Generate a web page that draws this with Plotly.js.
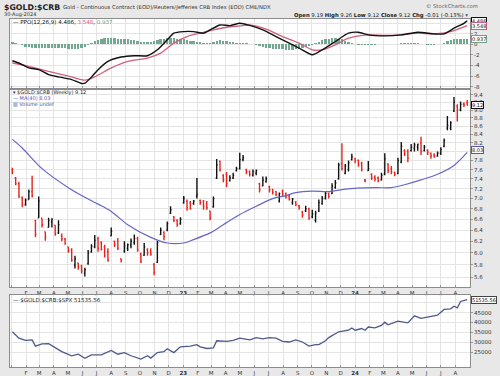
<!DOCTYPE html>
<html><head><meta charset="utf-8">
<script src="https://cdn.plot.ly/plotly-3.0.1.min.js"></script>
<style>html,body{margin:0;padding:0;background:#e8e8e8}#chart{width:500px;height:376px}</style>
</head><body><div id="chart"></div><script>
// ---- data (weekly bars, week 0 = week of 2022-01-03) ----
const firstWeek = Date.UTC(2022, 0, 3);
const opens  = [7.60,7.42,7.30,7.02,6.88,6.98,7.14,6.58,6.63,6.62,6.37,6.45,6.55,6.49,6.35,6.30,6.24,6.10,6.05,5.80,5.83,5.78,5.66,5.82,6.02,6.10,6.25,6.18,6.10,6.02,6.30,6.20,6.20,5.90,6.03,6.08,6.14,6.18,6.25,5.98,5.96,6.06,6.02,5.80,5.84,6.32,6.36,6.40,6.72,6.64,6.58,6.52,6.92,6.95,6.92,6.90,7.05,6.96,6.95,6.90,6.76,6.84,7.42,7.78,7.48,7.50,7.36,7.42,7.58,7.62,7.82,7.60,7.56,7.48,7.52,7.30,7.26,7.35,7.24,7.18,7.14,6.95,7.15,7.10,7.05,6.92,6.93,6.86,6.74,6.76,6.80,6.65,6.58,6.76,6.90,7.00,7.10,7.10,7.22,7.40,7.72,7.52,7.60,7.82,7.84,7.80,7.74,7.38,7.58,7.50,7.44,7.42,7.38,7.50,7.72,7.62,7.54,7.52,7.76,8.02,8.00,8.02,8.08,8.10,8.20,8.02,8.02,7.96,7.92,7.90,7.96,8.12,8.55,8.55,8.98,9.10,9.00,9.15,9.19];
const highs  = [7.64,7.44,7.34,7.04,7.00,7.18,7.47,6.59,7.04,6.62,6.37,6.63,6.62,6.49,6.58,6.34,6.26,6.10,6.08,5.95,5.83,5.80,5.75,6.05,6.15,6.31,6.28,6.20,6.14,6.08,6.45,6.21,6.26,5.90,6.20,6.16,6.25,6.32,6.28,6.00,6.17,6.08,6.08,5.83,6.21,6.45,6.38,6.56,6.85,6.66,6.60,6.64,7.05,6.98,6.95,6.97,7.42,6.98,6.97,6.95,6.76,7.04,7.83,7.80,7.50,7.55,7.48,7.53,7.66,7.97,7.92,7.62,7.58,7.60,7.60,7.32,7.45,7.45,7.26,7.20,7.15,7.12,7.18,7.12,7.08,7.01,6.95,6.88,6.76,6.86,6.82,6.78,6.76,6.98,7.05,7.15,7.12,7.31,7.38,7.75,8.19,7.72,7.80,7.95,7.86,7.82,7.77,7.40,7.79,7.52,7.48,7.45,7.53,7.96,7.74,7.68,7.56,7.86,8.22,8.05,8.05,8.17,8.20,8.18,8.34,8.15,8.05,7.98,7.96,8.00,8.10,8.30,8.85,8.72,9.34,9.15,9.22,9.20,9.26];
const lows   = [7.50,7.27,7.01,6.83,6.86,6.98,7.02,6.27,6.63,6.45,6.21,6.45,6.45,6.30,6.33,6.20,6.14,6.00,5.85,5.74,5.72,5.66,5.61,5.80,6.00,6.08,6.02,6.04,5.92,5.85,6.29,6.10,6.05,5.84,6.00,6.03,6.08,6.14,6.02,5.83,5.95,5.95,5.95,5.63,5.83,6.31,6.22,6.38,6.70,6.55,6.46,6.50,6.90,6.76,6.78,6.88,7.00,6.88,6.78,6.78,6.58,6.82,7.40,7.56,7.33,7.23,7.35,7.40,7.56,7.60,7.78,7.50,7.45,7.45,7.48,7.12,7.25,7.32,7.12,7.08,7.05,6.92,7.05,7.00,6.96,6.88,6.85,6.78,6.63,6.74,6.59,6.62,6.54,6.74,6.88,6.98,7.00,7.09,7.20,7.39,7.58,7.50,7.56,7.80,7.74,7.66,7.56,7.33,7.57,7.38,7.35,7.33,7.37,7.48,7.52,7.50,7.46,7.50,7.74,7.90,7.76,8.00,8.00,8.02,7.92,8.00,7.92,7.84,7.86,7.88,7.92,8.10,8.50,8.50,8.95,8.71,8.97,9.08,9.12];
const closes = [7.54,7.30,7.05,6.88,6.97,7.14,7.06,6.32,6.95,6.50,6.28,6.58,6.60,6.33,6.50,6.24,6.16,6.03,5.88,5.90,5.76,5.70,5.72,6.00,6.12,6.22,6.08,6.06,5.95,5.88,6.38,6.14,6.08,5.88,6.12,6.14,6.20,6.25,6.05,5.86,6.10,6.00,5.98,5.68,6.18,6.40,6.28,6.52,6.78,6.58,6.50,6.60,7.00,6.82,6.80,6.95,7.08,6.92,6.85,6.82,6.62,7.00,7.70,7.60,7.38,7.30,7.42,7.48,7.62,7.82,7.86,7.55,7.50,7.55,7.58,7.18,7.38,7.40,7.18,7.12,7.08,7.10,7.06,7.03,6.98,6.99,6.88,6.82,6.68,6.80,6.62,6.70,6.72,6.92,7.00,7.10,7.05,7.25,7.32,7.70,7.62,7.68,7.75,7.88,7.80,7.70,7.60,7.36,7.62,7.42,7.40,7.36,7.48,7.84,7.58,7.55,7.50,7.80,8.12,7.95,7.85,8.10,8.15,8.17,8.00,8.10,7.98,7.90,7.88,7.96,8.05,8.25,8.62,8.68,9.20,9.00,9.15,9.13,9.12];

const maWeeks  = [0,3,9,17,23,26,30,35,42,47,52,55,60,64,69,74,79,83,86,91,96,101,110,115,119,124,129,134,138];
const maValues = [8.28,8.08,7.62,7.22,6.99,6.89,6.75,6.50,6.27,6.17,6.17,6.23,6.35,6.50,6.69,6.85,7.00,7.06,7.12,7.15,7.14,7.19,7.22,7.22,7.28,7.38,7.50,7.69,7.98];

const ppoWeeks  = [0,2,5,8,11,14,18,21,22,24,26,29,33,37,41,44,47,49,52,55,58,60,63,66,69,72,76,80,84,87,91,94,98,102,105,108,113,118,123,128,131,134,137,138];
const ppoValues = [-3.09,-3.52,-4.46,-4.78,-5.72,-6.15,-6.66,-7.41,-7.35,-6.2,-4.78,-3.2,-2.39,-2.14,-2.14,-1.02,0.87,2.13,2.43,2.43,2.13,2.75,3.69,3.56,4.0,3.6,2.75,1.49,0.24,-0.70,-1.96,-1.02,0.55,2.13,2.31,1.81,1.62,1.81,2.31,1.99,2.0,3.07,4.0,4.486];
const signalWeeks  = [0,5,11,18,22,25,30,35,41,45,49,53,57,61,65,69,72,77,82,87,91,94,98,102,108,113,118,123,128,133,138];
const signalValues = [-3.52,-4.15,-5.1,-6.15,-6.78,-6.15,-4.46,-3.2,-2.58,-1.64,0.24,1.49,2.13,2.75,3.25,3.5,3.69,2.88,1.49,0.24,-1.02,-1.02,-0.08,1.18,1.81,1.7,1.81,2.13,2.0,2.43,3.548];
const histValues = [0.45,0.35, 0.1,-0.2,-0.4, -0.5,-0.6,-0.6,-0.7,-0.7,-0.7,-0.65,-0.6, -0.6,-0.65,-0.7,-0.75,-0.8,-0.85,-0.85,-0.8, -0.7,-0.5,-0.2,0.2, 0.6,0.9,1.1,1.2,1.25,1.2,1.15,1.1, 1.05,1.0,0.95,0.9,0.8,0.7, 0.55,0.45,0.4,0.45,0.6, 0.8,1.0,1.1,1.2,1.2,1.15,1.1,1.0,0.95, 0.85,0.7,0.6,0.5,0.4,0.3, 0.2,0.3,0.5,0.7, 0.75,0.7,0.6,0.5,0.4, 0.35,0.3,0.25,0.2,0.1,0, -0.2,-0.35,-0.5,-0.6,-0.7,-0.8,-0.85, -0.9,-0.95,-1.0,-1.0,-1.0,-0.95,-0.85,-0.7, -0.5,-0.3,-0.1,0.2, 0.5,0.75,0.95,1.1,1.2,1.2,1.1,0.95,0.7, 0.45,0.25,0.1,-0.05,-0.15,-0.2, -0.2,-0.15,-0.1,0,0.05,0.1,0.1,0.05, 0,0.1,0.2,0.25,0.3,0.3,0.25,0.2,0.1,0,-0.05, -0.1,-0.1,0,0.15,0.35, 0.6,0.8,0.95,1.0,1.0,0.95,0.937];

const ratioWeeks  = [0,2,4,6,7,9,11,13,15,18,20,22,24,27,30,32,34,36,39,41,42,44,46,47,49,51,54,56,57,59,61,62,65,67,69,72,74,76,78,80,82,84,86,88,90,92,93,95,96,99,102,103,104,106,107,108,110,112,113,114,117,120,122,124,127,129,131,133,134,135,136,138];
const ratioValues = [35340,32100,30990,31280,28090,29200,29350,27270,25340,23260,24030,21960,23740,23740,25970,24030,24850,23260,21620,23260,22100,24850,25340,26790,24850,27750,28090,28860,27750,26930,27270,30800,30510,30990,32100,31280,32420,31760,32420,32100,30510,30190,31280,30190,28090,28860,28860,30800,32420,35340,36110,37270,36110,36970,36110,37750,37270,38530,40170,38830,40660,39830,43360,42100,43050,43700,46600,46900,48190,47400,50600,51535.56];

const priceTicks = [5.6,5.8,6.0,6.2,6.4,6.6,6.8,7.0,7.2,7.4,7.6,7.8,8.0,8.2,8.4,8.6,8.8,9.0,9.2,9.4];
const priceTickText = ['5.6','5.8','6.0','6.2','6.4','6.6','6.8','7.0','7.2','7.4','7.6','7.8','','8.2','8.4','8.6','8.8','9.0','9.2','9.4'];
const ppoTicks = [-8,-6,-4,-2,0,2,4];
const ppoTickText = ['-8','-6','-4','-2','0','2',''];
const ratioTicks = [25000,30000,35000,40000,45000,50000];
const ratioTickText = ['25000','30000','35000','40000','45000',''];
const monthTicks = ['2022-01-01','2022-02-01','2022-03-01','2022-04-01','2022-05-01','2022-06-01','2022-07-01','2022-08-01','2022-09-01','2022-10-01','2022-11-01','2022-12-01','2023-01-01','2023-02-01','2023-03-01','2023-04-01','2023-05-01','2023-06-01','2023-07-01','2023-08-01','2023-09-01','2023-10-01','2023-11-01','2023-12-01','2024-01-01','2024-02-01','2024-03-01','2024-04-01','2024-05-01','2024-06-01','2024-07-01','2024-08-01'];
const monthLabels = ['','F','M','A','M','J','J','A','S','O','N','D','<b>23</b>','F','M','A','M','J','J','A','S','O','N','D','<b>24</b>','F','M','A','M','J','J','A'];

// ---- helpers ----
const wk = i => new Date(firstWeek + i * 7 * 86400000).toISOString().slice(0, 10);
const weeks = closes.map((_, i) => wk(i));
const upIdx = [], dnIdx = [];
closes.forEach((c, i) => { const ref = i === 0 ? opens[0] : closes[i - 1]; (c >= ref ? upIdx : dnIdx).push(i); });
const pick = (arr, idx) => idx.map(i => arr[i]);
function ohlcTrace(idx, color) {
  return {type: 'ohlc', xaxis: 'x', yaxis: 'y', x: pick(weeks, idx), open: pick(opens, idx), high: pick(highs, idx), low: pick(lows, idx), close: pick(closes, idx),
    increasing: {line: {color: color, width: 1.4}}, decreasing: {line: {color: color, width: 1.4}}, tickwidth: 0.3, hoverinfo: 'skip'};
}
const F = 'DejaVu Sans';
const L = 10, R = 470, T = 18, B = 367;
const px = x => (x - L) / (R - L), py = y => (B - y) / (B - T);
const dom = (yTop, yBot) => [Math.max(0, py(yBot)), Math.min(1, py(yTop))];
const ann = (x, y, text, size, color, extra) => Object.assign({xref: 'paper', yref: 'paper', x: px(x), y: py(y), xanchor: 'left', yanchor: 'middle', text: text, showarrow: false, font: {family: F, size: size, color: color || '#222'}}, extra || {});
const box = (yref, y, text, border) => ({xref: 'paper', yref: yref, x: 1.003, y: y, xanchor: 'left', yanchor: 'middle', text: text, showarrow: false, bgcolor: '#fff', bordercolor: border, borderwidth: 1, borderpad: 0, font: {family: F, size: 5, color: '#111'}});

const traces = [
  {type: 'bar', xaxis: 'x2', yaxis: 'y2', x: weeks, y: histValues, marker: {color: '#72a892', line: {width: 0}}, width: 5 * 86400000, hoverinfo: 'skip'},
  {type: 'scatter', mode: 'lines', xaxis: 'x2', yaxis: 'y2', x: signalWeeks.map(wk), y: signalValues, line: {color: '#d0607e', width: 1.3, shape: 'spline', smoothing: 0.7}, hoverinfo: 'skip'},
  {type: 'scatter', mode: 'lines', xaxis: 'x2', yaxis: 'y2', x: ppoWeeks.map(wk), y: ppoValues, line: {color: '#111', width: 1.4, shape: 'spline', smoothing: 0.6}, hoverinfo: 'skip'},
  {type: 'scatter', mode: 'lines', xaxis: 'x', yaxis: 'y', x: maWeeks.map(wk), y: maValues, line: {color: '#6666c8', width: 1.2, shape: 'spline', smoothing: 0.8}, hoverinfo: 'skip'},
  ohlcTrace(upIdx, '#111111'),
  ohlcTrace(dnIdx, '#e8231c'),
  {type: 'scatter', mode: 'lines', xaxis: 'x3', yaxis: 'y3', x: ratioWeeks.map(wk), y: ratioValues, line: {color: '#4d5a8a', width: 1.3}, hoverinfo: 'skip'}
];

const xRange = ['2021-12-29', '2024-09-01'];
const xBase = {range: xRange, type: 'date', tickvals: monthTicks, ticktext: monthLabels, showgrid: true, gridcolor: '#e4e4e4', gridwidth: 1,
  showline: true, mirror: true, linecolor: '#8c8c8c', linewidth: 1, ticks: 'inside', ticklen: 2, tickcolor: '#999', tickfont: {family: F, size: 5.5, color: '#333'}, zeroline: false, fixedrange: true};
const yBase = {side: 'right', showgrid: true, gridcolor: '#e4e4e4', showline: true, mirror: true, linecolor: '#8c8c8c', linewidth: 1, ticks: 'outside', ticklen: 2, tickcolor: '#999',
  tickfont: {family: F, size: 5.5, color: '#333'}, zeroline: false, fixedrange: true};

const layout = {
  width: 500, height: 376, margin: {l: L, r: 500 - R, t: T, b: 376 - B},
  paper_bgcolor: '#e8e8e8', plot_bgcolor: '#ffffff', showlegend: false, bargap: 0,
  xaxis: Object.assign({}, xBase, {anchor: 'y', rangeslider: {visible: false}, showticklabels: true}),
  xaxis2: Object.assign({}, xBase, {anchor: 'y2', matches: 'x', showticklabels: false}),
  xaxis3: Object.assign({}, xBase, {anchor: 'y3', matches: 'x', showticklabels: true}),
  yaxis: Object.assign({}, yBase, {domain: dom(89.5, 287), type: 'log', range: [Math.log10(5.446), Math.log10(9.54)], tickvals: priceTicks, ticktext: priceTickText}),
  yaxis2: Object.assign({}, yBase, {domain: dom(18.5, 88), range: [-8.26, 4.91], tickvals: ppoTicks, ticktext: ppoTickText}),
  yaxis3: Object.assign({}, yBase, {domain: dom(295, 367), range: [17600, 53860], tickvals: ratioTicks, ticktext: ratioTickText}),
  annotations: [
    ann(2, 7, '<b>$GOLD:$CRB</b>', 7.8, '#222'),
    ann(61, 7.5, 'Gold - Continuous Contract (EOD)/Reuters/Jefferies CRB Index (EOD) CME/NDX', 5.3, '#333'),
    ann(2, 14.5, '30-Aug-2024', 5, '#333'),
    ann(480, 6.5, '© StockCharts.com', 5.3, '#666', {xanchor: 'right'}),
    ann(470, 15, '<b>Open</b> 9.19 <b>High</b> 9.26 <b>Low</b> 9.12 <b>Close</b> 9.12 <b>Chg</b> -0.01 (-0.13%) <span style="color:#3355aa">▾</span>', 5.3, '#222', {xanchor: 'right'}),
    ann(11, 22.5, '— PPO(12,26,9) 4.486, <span style="color:#d0607e">3.548</span>, <span style="color:#6f9e8c">0.937</span>', 5.5, '#111'),
    ann(11, 92, '▾ $GOLD:$CRB (Weekly) 9.12', 5, '#222'),
    ann(11, 98, '<span style="color:#5555bb">— MA(40) 8.03</span>', 5, '#5555bb'),
    ann(11, 103.8, '<span style="color:#3355aa">▥ Volume undef</span>', 5, '#3355aa'),
    ann(11, 299.5, '— $GOLD:$CRB:$SPX 51535.56', 5.5, '#222'),
    box('y2', 4.486, '4.486', '#111'),
    box('y2', 3.548, '3.548', '#d0607e'),
    box('y2', 0.937, '0.937', '#6f9e8c'),
    box('y', Math.log10(9.12), '9.12', '#111'),
    box('y', Math.log10(8.03), '8.03', '#5555bb'),
    box('y3', 51535.56, '51535.56', '#444')
  ]
};
Plotly.newPlot('chart', traces, layout, {displayModeBar: false, staticPlot: true});
</script></body></html>
